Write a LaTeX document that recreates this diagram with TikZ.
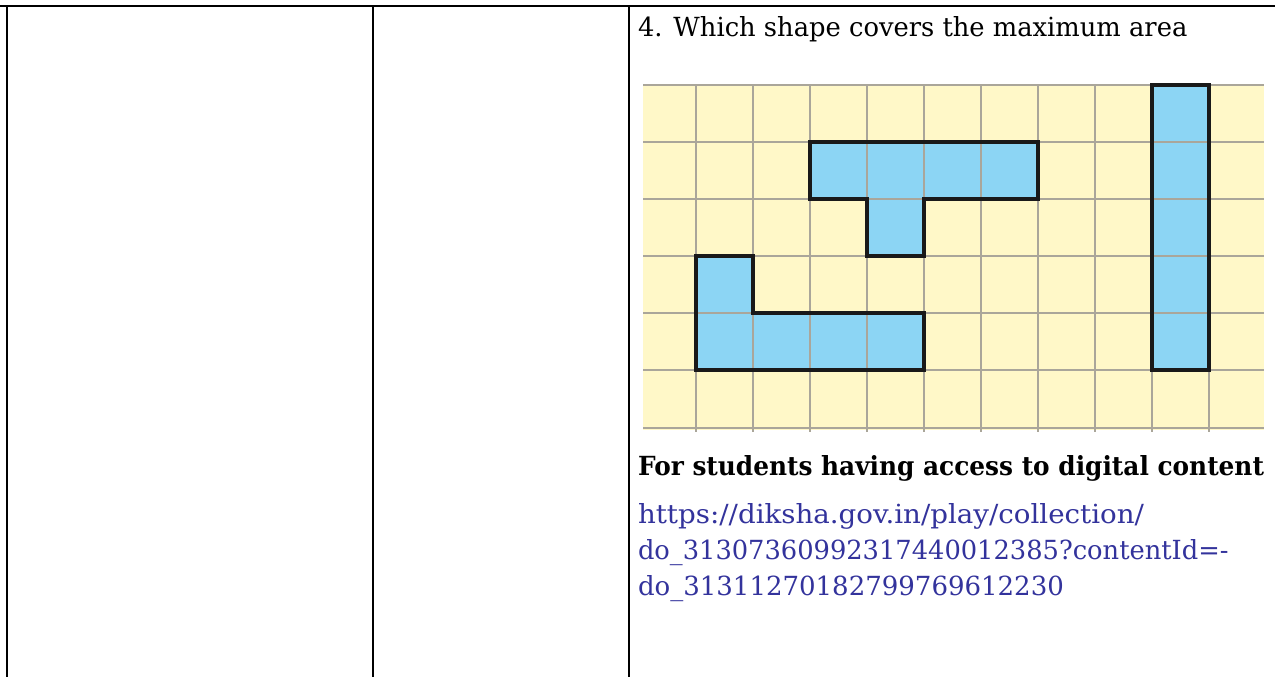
\documentclass[tikz,border=0pt]{standalone}
\usepackage{fontspec}
\setmainfont{DejaVu Serif}
\usepackage{graphicx}
\definecolor{gridyellow}{HTML}{FFF8C8}
\definecolor{shapeblue}{HTML}{8CD5F4}
\definecolor{gridgrey}{HTML}{AAA69A}
\definecolor{linkblue}{HTML}{33339C}
\tikzset{
  rule/.style={line width=2pt, black},
  gridline/.style={line width=1.3pt, gridgrey},
  shapeline/.style={line width=2.4pt, black!90, line join=miter},
  txt/.style={anchor=base west, inner sep=0pt, outer sep=0pt},
}
\begin{document}
\begin{tikzpicture}[x=0.75pt, y=-0.75pt]
\useasboundingbox (0,0) rectangle (1275,677);
% table rules
\draw[rule] (0,6) -- (1275,6);
\draw[rule] (7,6) -- (7,677);
\draw[rule] (373,6) -- (373,677);
\draw[rule] (629,6) -- (629,677);
% question
\node[txt] (q) at (638,37) {\resizebox{412pt}{15pt}{4. Which shape covers the maximum area}};
% grid background
\fill[gridyellow] (643,85) rectangle (1264,430);
% shapes (fill)
\fill[shapeblue] (810,142) -- (1038,142) -- (1038,199) -- (924,199) -- (924,256) -- (867,256) -- (867,199) -- (810,199) -- cycle;
\fill[shapeblue] (696,256) -- (753,256) -- (753,313) -- (924,313) -- (924,370) -- (696,370) -- cycle;
\fill[shapeblue] (1152,85) rectangle (1209,370);
% grid lines
\foreach \i in {0,...,9} {
  \draw[gridline] ({696+57*\i},85) -- ({696+57*\i},432);
}
\foreach \y in {85,142,199,256,313,370,428} {
  \draw[gridline] (643,\y) -- (1264,\y);
}
% shape outlines
\draw[shapeline] (810,142) -- (1038,142) -- (1038,199) -- (924,199) -- (924,256) -- (867,256) -- (867,199) -- (810,199) -- cycle;
\draw[shapeline] (696,256) -- (753,256) -- (753,313) -- (924,313) -- (924,370) -- (696,370) -- cycle;
\draw[shapeline] (1152,85) rectangle (1209,370);
% digital content
\node[txt] (hd) at (638,475) {\resizebox{469.5pt}{15pt}{\bfseries For students having access to digital content}};
\node[txt, text=linkblue] (u1) at (638,523) {\resizebox{379.5pt}{15pt}{https://diksha.gov.in/play/collection/}};
\node[txt, text=linkblue] (u2) at (638,559) {\resizebox{443pt}{15pt}{do\_31307360992317440012385?contentId=-}};
\node[txt, text=linkblue] (u3) at (638,595) {\resizebox{319.5pt}{15pt}{do\_31311270182799769612230}};
\end{tikzpicture}
\end{document}
